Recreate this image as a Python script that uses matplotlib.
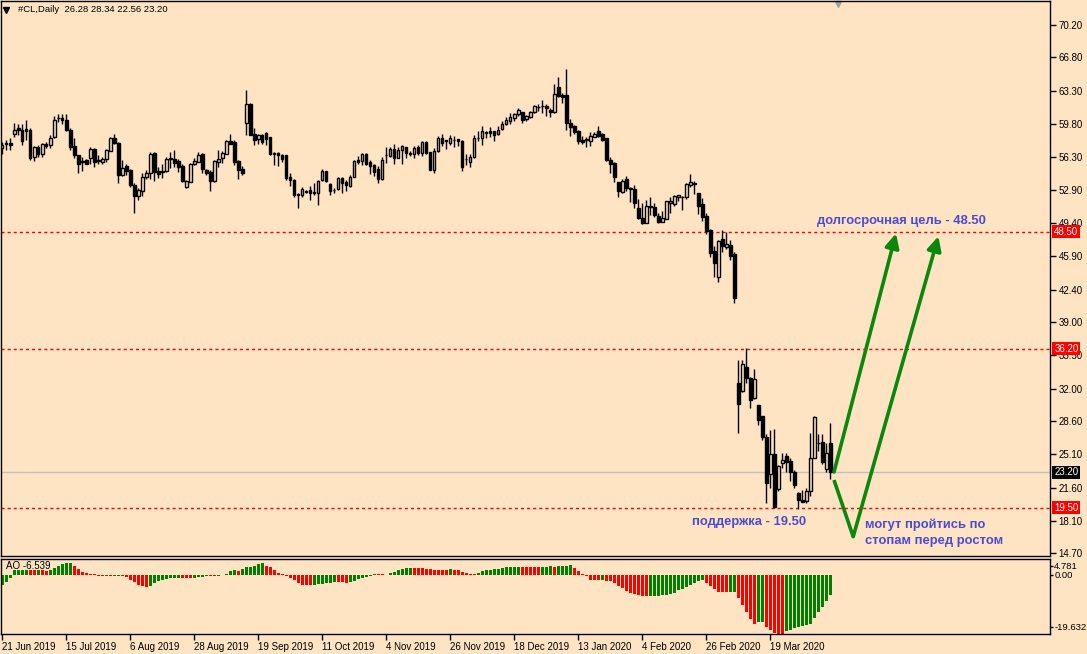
import numpy as np
import matplotlib.pyplot as plt

plt.rcParams['font.family'] = ['Liberation Sans', 'DejaVu Sans']

# daily candles of #CL, 21 Jun 2019 .. 9 Apr 2020
opens = [57.25, 57.75, 57.85, 58.75, 59.35, 59.2, 59.25, 59.2, 56.35, 57.35,
         56.7, 57.75, 57.6, 58.4, 60.4, 60.4, 60.2, 59.2, 57.5, 56.5,
         55.85, 56.0, 56.2, 57.15, 56.0, 55.85, 56.1, 57.0, 58.3, 57.85,
         54.45, 55.4, 54.95, 53.4, 52.25, 52.8, 54.25, 54.7, 56.8, 54.9,
         54.85, 54.9, 56.2, 56.1, 55.9, 55.4, 53.15, 53.7, 55.65, 55.85,
         56.65, 55.0, 54.8, 53.85, 55.85, 56.2, 56.7, 58.0, 57.9, 55.9,
         55.1, 59.95, 61.9, 58.75, 58.2, 58.65, 58.9, 58.4, 56.7, 56.75,
         56.55, 56.55, 54.2, 53.95, 52.4, 52.35, 52.7, 52.85, 52.7, 52.6,
         53.9, 54.9, 53.5, 52.9, 52.95, 54.1, 53.75, 53.3, 54.25, 56.0,
         55.95, 56.7, 55.85, 55.5, 55.05, 54.0, 56.5, 56.45, 57.2, 56.25,
         57.05, 57.35, 56.8, 56.7, 57.35, 56.8, 57.95, 56.9, 55.0, 57.0,
         58.3, 58.05, 57.85, 58.15, 58.2, 58.0, 56.1, 55.85, 56.35, 58.3,
         58.3, 58.9, 59.05, 59.05, 58.75, 59.3, 59.8, 60.1, 60.45, 60.8,
         61.1, 60.3, 60.55, 61.1, 61.6, 61.7, 61.7, 61.25, 61.1, 63.65,
         62.85, 62.85, 59.95, 59.6, 59.05, 58.1, 58.2, 58.05, 58.45, 59.1,
         58.75, 58.3, 56.0, 55.67, 53.67, 52.7, 53.99, 53.1, 52.94, 50.94,
         49.89, 49.44, 51.19, 51.05, 50.14, 49.54, 49.82, 51.47, 51.4, 52.1,
         52.1, 52.1, 53.4, 53.64, 52.59, 51.4, 50.14, 48.67, 46.46, 43.7,
         47.72, 46.92, 47.09, 46.15, 32.56, 31.75, 34.31, 33.15, 30.98, 30.28,
         29.13, 26.96, 23.0, 25.1, 21.46, 24.16, 24.96, 24.4, 23.28, 21.0,
         20.3, 20.2, 21.25, 24.75, 26.25, 26.36, 23.56, 26.28]
highs = [57.95, 58.1, 58.3, 59.95, 59.85, 59.85, 60.2, 59.35, 57.5, 57.6,
         57.85, 57.95, 58.65, 60.65, 60.9, 60.8, 60.8, 59.35, 58.3, 56.5,
         56.35, 56.1, 57.4, 57.25, 56.55, 56.35, 57.15, 58.45, 58.8, 57.95,
         56.0, 55.65, 55.05, 53.55, 53.05, 54.6, 54.95, 56.9, 56.9, 55.3,
         55.65, 56.35, 56.9, 57.05, 56.1, 55.65, 53.95, 55.75, 56.2, 56.9,
         56.8, 55.1, 54.95, 56.0, 57.05, 57.0, 58.1, 58.75, 58.1, 56.0,
         55.35, 63.35, 62.0, 59.35, 58.8, 58.8, 59.0, 58.45, 56.9, 56.9,
         56.7, 56.55, 54.6, 54.0, 52.55, 53.15, 52.85, 53.3, 53.55, 53.9,
         55.05, 54.9, 53.55, 53.05, 54.2, 54.25, 53.9, 54.45, 56.0, 56.45,
         56.8, 56.8, 56.0, 55.65, 55.4, 56.3, 57.35, 57.35, 57.75, 57.35,
         57.6, 57.4, 57.0, 57.5, 57.6, 58.05, 58.05, 56.9, 57.25, 58.5,
         58.75, 58.1, 58.65, 58.55, 58.2, 58.1, 56.65, 56.7, 58.65, 59.1,
         59.6, 59.1, 59.5, 59.1, 59.6, 60.15, 60.5, 61.0, 61.0, 61.45,
         61.1, 60.75, 61.2, 61.8, 61.95, 62.3, 61.95, 61.45, 64.0, 64.7,
         63.05, 65.55, 60.3, 59.7, 59.15, 58.5, 58.4, 58.95, 58.95, 59.6,
         58.9, 58.3, 56.3, 55.85, 53.75, 53.99, 54.34, 53.22, 53.39, 51.89,
         51.47, 51.82, 52.1, 51.47, 50.42, 50.66, 51.71, 52.1, 52.34, 52.34,
         52.24, 53.57, 54.55, 53.85, 52.59, 51.99, 50.42, 48.74, 46.99, 47.62,
         48.67, 48.5, 47.62, 46.36, 35.01, 35.01, 36.23, 33.26, 34.06, 30.28,
         29.13, 27.2, 27.65, 27.76, 23.98, 25.2, 25.2, 24.75, 23.45, 21.1,
         21.35, 21.6, 27.31, 29.16, 27.2, 27.2, 26.25, 28.34]
lows = [56.65, 57.05, 57.05, 58.45, 58.65, 57.6, 58.1, 56.0, 55.95, 56.35,
        56.3, 57.25, 57.25, 58.3, 60.05, 59.85, 59.05, 57.05, 56.2, 54.7,
        54.9, 55.6, 55.65, 55.25, 55.65, 55.65, 55.85, 56.95, 57.7, 53.55,
        54.35, 54.45, 53.2, 50.5, 51.8, 52.25, 54.05, 54.0, 53.85, 54.1,
        54.1, 54.8, 55.15, 55.25, 54.8, 53.75, 53.05, 53.7, 55.5, 55.8,
        54.6, 54.45, 52.8, 53.75, 55.25, 55.75, 56.65, 57.7, 55.5, 54.0,
        54.45, 58.65, 58.6, 57.6, 57.7, 57.7, 57.6, 56.55, 55.5, 55.4,
        55.85, 53.9, 53.3, 52.1, 50.95, 52.1, 52.5, 51.8, 52.35, 51.3,
        53.85, 53.75, 52.35, 52.5, 52.85, 52.6, 52.8, 53.2, 54.2, 55.65,
        55.5, 55.5, 54.55, 54.3, 53.65, 53.95, 55.75, 56.3, 55.65, 56.2,
        55.65, 56.2, 56.4, 56.2, 56.55, 56.45, 56.65, 54.95, 54.6, 56.9,
        57.5, 57.15, 57.6, 57.4, 57.5, 54.9, 55.5, 55.3, 56.2, 58.05,
        57.6, 58.3, 58.45, 58.05, 58.65, 59.15, 59.7, 59.85, 60.15, 60.6,
        59.95, 60.1, 60.4, 61.0, 61.2, 61.0, 60.65, 60.55, 61.0, 62.6,
        62.05, 59.15, 58.55, 58.75, 57.75, 57.75, 57.35, 57.5, 58.4, 58.45,
        58.05, 55.95, 54.7, 53.75, 52.1, 52.6, 52.8, 51.64, 50.94, 49.79,
        49.26, 49.44, 50.24, 50.0, 49.37, 49.54, 49.79, 50.49, 51.22, 51.75,
        50.77, 51.89, 53.22, 52.45, 50.35, 49.65, 48.25, 45.8, 43.77, 43.24,
        46.4, 46.64, 45.52, 41.03, 27.31, 31.68, 32.56, 30.0, 30.91, 28.18,
        26.61, 20.02, 21.6, 19.5, 21.25, 23.63, 23.28, 22.3, 21.53, 19.36,
        20.06, 20.02, 20.76, 24.68, 25.45, 24.05, 23.28, 22.56]
closes = [57.6, 57.8, 57.6, 59.2, 59.2, 58.05, 59.1, 56.2, 57.35, 56.65,
          57.7, 57.5, 58.3, 60.2, 60.4, 60.2, 59.15, 57.4, 56.5, 55.55,
          55.85, 55.65, 57.15, 55.85, 55.9, 56.1, 57.05, 58.3, 57.85, 54.4,
          55.15, 54.9, 53.4, 52.25, 52.85, 54.2, 54.7, 56.7, 54.8, 54.55,
          54.75, 56.1, 56.1, 55.75, 55.3, 53.85, 53.85, 55.65, 55.9, 56.55,
          55.1, 54.7, 53.85, 55.95, 56.1, 56.8, 58.0, 57.75, 55.85, 55.0,
          54.7, 61.9, 58.65, 58.1, 58.65, 57.95, 58.2, 56.7, 56.7, 56.55,
          56.1, 54.1, 53.9, 52.35, 52.3, 52.95, 52.7, 52.5, 52.5, 53.85,
          54.9, 53.85, 52.8, 52.85, 54.1, 53.65, 53.4, 54.2, 55.95, 55.8,
          56.65, 55.65, 55.4, 54.8, 54.0, 56.0, 56.5, 57.2, 56.25, 57.05,
          57.5, 56.8, 56.65, 57.25, 56.8, 57.95, 56.8, 55.0, 57.0, 58.3,
          57.85, 58.05, 58.3, 58.1, 58.05, 55.3, 56.1, 56.35, 58.3, 58.3,
          59.05, 58.9, 58.9, 58.65, 59.15, 59.75, 60.2, 60.5, 60.9, 61.25,
          60.2, 60.65, 61.1, 61.7, 61.6, 61.7, 61.45, 61.1, 62.95, 62.75,
          62.6, 59.95, 59.5, 58.95, 58.05, 57.95, 58.1, 58.5, 58.75, 58.55,
          58.1, 56.0, 55.6, 54.2, 52.8, 53.85, 53.04, 52.94, 51.54, 49.89,
          49.44, 51.19, 51.05, 50.24, 49.54, 49.89, 51.71, 51.71, 52.24, 52.34,
          52.1, 53.5, 53.67, 53.46, 51.22, 50.07, 48.6, 46.29, 45.24, 47.51,
          47.02, 47.2, 45.97, 41.56, 30.35, 34.55, 33.08, 30.81, 33.01, 28.71,
          26.96, 22.05, 25.1, 19.55, 23.87, 24.5, 24.26, 23.28, 21.88, 20.3,
          20.13, 21.25, 24.75, 29.06, 26.25, 24.26, 25.2, 23.20]

# Awesome Oscillator values per bar
ao_values = [-3.2, -2.3, -0.9, 1.5, 1.6, 1.7, 1.75, 1.6, 1.5, 1.6,
             1.55, 1.45, 1.8, 2.4, 3.0, 3.5, 3.9, 4.0, 3.1, 1.9,
             1.1, 0.5, 0.35, 0.25, -0.3, -0.35, -0.3, -0.4, -0.35, -0.3,
             -0.45, -0.8, -1.6, -2.4, -3.3, -3.8, -4.0, -3.5, -2.6, -2.1,
             -1.6, -1.2, -1.0, -0.9, -0.85, -1.0, -1.05, -1.1, -0.9, -0.8,
             -0.6, -0.4, -0.45, -0.5, -0.3, -0.15, 0.4, 1.4, 1.6, 1.3,
             1.9, 2.5, 2.8, 3.1, 3.7, 3.95, 3.1, 2.5, 1.6, 0.8,
             0.35, -0.3, -0.9, -1.8, -2.6, -3.2, -3.3, -3.35, -3.2, -3.0,
             -2.9, -2.7, -2.65, -2.3, -2.4, -2.45, -2.5, -2.3, -2.1, -1.5,
             -1.1, -0.7, -0.4, 0.35, 0.25, 0.2, 0.15, 0.5, 1.1, 1.7,
             2.0, 2.3, 2.4, 2.35, 2.3, 2.25, 2.1, 1.95, 1.8, 1.75,
             1.7, 1.68, 1.85, 1.8, 1.5, 1.1, 0.6, 0.45, 0.3, 0.8,
             1.3, 1.6, 1.65, 1.9, 2.0, 2.3, 2.5, 2.6, 2.7, 2.8,
             2.75, 2.7, 2.68, 2.65, 2.6, 2.75, 2.8, 2.85, 2.75, 3.0,
             3.1, 3.15, 3.2, 2.3, 1.35, 0.4, -0.4, -1.55, -1.65, -1.7,
             -1.55, -1.9, -2.1, -2.7, -3.6, -4.45, -5.25, -5.95, -6.4, -6.75,
             -7.0, -7.1, -7.05, -7.0, -6.95, -6.75, -6.5, -6.2, -5.85, -5.0,
             -4.7, -3.9, -3.3, -2.7, -2.1, -1.8, -2.7, -3.6, -4.7, -5.6,
             -5.65, -5.7, -5.6, -5.55, -7.7, -10.0, -12.35, -14.5, -16.3, -15.8,
             -15.75, -17.4, -18.4, -19.3, -19.6, -19.63, -18.7, -18.35, -17.8, -17.45,
             -16.95, -16.6, -16.3, -14.3, -12.35, -10.5, -8.5, -6.539]

date_labels = ["21 Jun 2019", "15 Jul 2019", "6 Aug 2019", "28 Aug 2019",
               "19 Sep 2019", "11 Oct 2019", "4 Nov 2019", "26 Nov 2019",
               "18 Dec 2019", "13 Jan 2020", "4 Feb 2020", "26 Feb 2020",
               "19 Mar 2020"]
date_bars = [0, 16, 32, 48, 64, 80, 96, 112, 128, 144, 160, 176, 192]

price_ticks = [70.20, 66.80, 63.30, 59.80, 56.30, 52.90, 49.40, 45.90, 42.40,
               39.00, 35.50, 32.00, 28.60, 25.10, 21.60, 18.10, 14.70]
levels = [48.50, 36.20, 19.50]
last_price = 23.20

# forecast arrows (bar index, price)
arrow_up = [(207.9, 23.25), (223.4, 48.3)]
arrow_dip = [(207.9, 22.4), (212.7, 16.45), (234.0, 48.0)]

BG = "#FFE4C4"
TXT_BLUE = "#4B4BD2"
GREEN = "#0B870B"
W, H = 1087, 654

fig = plt.figure(figsize=(W / 100, H / 100), dpi=100)
fig.patch.set_facecolor(BG)
ax = fig.add_axes([1 / W, 1 - 556 / H, 1049 / W, 555 / H])
ao_ax = fig.add_axes([1 / W, 1 - 634 / H, 1049 / W, 75.3 / H])

for a in (ax, ao_ax):
    a.set_facecolor(BG)
    for s in a.spines.values():
        s.set_color("black")
        s.set_linewidth(1)
    a.set_xlim(-0.35, 261.9)

# --- candles
o = np.array(opens)
h = np.array(highs)
l = np.array(lows)
c = np.array(closes)
x = np.arange(len(o))
up = c >= o
body_bot = np.minimum(o, c)
body_h = np.maximum(np.abs(c - o), 0.03)

ax.vlines(x, l, h, color="black", lw=1, zorder=2)
ax.bar(x[up], body_h[up], bottom=body_bot[up], width=0.55, facecolor=BG,
       edgecolor="black", lw=1, zorder=3)
ax.bar(x[~up], body_h[~up], bottom=body_bot[~up], width=0.55, facecolor="black",
       edgecolor="black", lw=1, zorder=3)

ax.set_ylim(14.42, 72.72)
for lv in levels:
    ax.axhline(lv, color="red", lw=1, ls=(0, (2.2, 2.2)), zorder=1)
ax.axhline(last_price, color="#C0C0C0", lw=1, zorder=1)

ax.yaxis.tick_right()
ax.set_yticks(price_ticks)
ax.set_yticklabels([f"{p:.2f}" for p in price_ticks])
ax.tick_params(axis="y", direction="out", length=4, width=1, labelsize=7, pad=2)
ax.set_xticks([])

for lv in levels:
    ax.text(1.004, lv, f"{lv:.2f}", transform=ax.get_yaxis_transform(),
            ha="left", va="center", fontsize=7, color="white", zorder=10,
            clip_on=False,
            bbox=dict(boxstyle="square,pad=0.18", fc="red", ec="none"))
ax.text(1.004, last_price, f"{last_price:.2f}", transform=ax.get_yaxis_transform(),
        ha="left", va="center", fontsize=7, color="white", zorder=10,
        clip_on=False, bbox=dict(boxstyle="square,pad=0.18", fc="black", ec="none"))

# header
ax.plot([5 / 1049], [1 - 9 / 555], marker="v", color="black", ms=4,
        transform=ax.transAxes, clip_on=False)
ax.text(17 / 1049, 1 - 9 / 555, "#CL,Daily  26.28 28.34 22.56 23.20",
        transform=ax.transAxes, fontsize=6.8, va="center", ha="left")
ax.plot([837 / 1049], [1 - 3 / 555], marker="v", color="#A0A0A0", ms=5,
        transform=ax.transAxes, clip_on=False)

# forecast arrows
(ax0, ay0), (ax1, ay1) = arrow_up
ax.annotate("", xy=(ax1, ay1), xytext=(ax0, ay0),
            arrowprops=dict(arrowstyle="-|>", color=GREEN, lw=2.6,
                            mutation_scale=21, shrinkA=0, shrinkB=0))
ax.plot([arrow_dip[0][0], arrow_dip[1][0]], [arrow_dip[0][1], arrow_dip[1][1]],
        color=GREEN, lw=2.6, solid_capstyle="butt")
ax.annotate("", xy=arrow_dip[2], xytext=arrow_dip[1],
            arrowprops=dict(arrowstyle="-|>", color=GREEN, lw=2.6,
                            mutation_scale=21, shrinkA=0, shrinkB=0))

note_kw = dict(color=TXT_BLUE, fontsize=9.4, fontweight="bold", ha="left", va="center")
ax.text(203.6, 49.64, "долгосрочная цель - 48.50", **note_kw)
ax.text(172.3, 17.94, "поддержка - 19.50", **note_kw)
ax.text(215.6, 17.68, "могут пройтись по", **note_kw)
ax.text(215.6, 15.99, "стопам перед ростом", **note_kw)

# --- Awesome Oscillator
ao = np.array(ao_values)
ao_colors = ["#008000" if i > 0 and ao[i] > ao[i - 1] else "#FF0000"
             for i in range(len(ao))]
ao_colors[0] = "#008000"
ao_ax.bar(np.arange(len(ao)), ao, width=0.7, color=ao_colors, lw=0)
ao_ax.set_ylim(-19.632, 5.42)
ao_ax.yaxis.tick_right()
ao_ax.set_yticks([3.0, 0.0, -17.3])
ao_ax.set_yticklabels(["4.781", "0.00", "-19.632"])
ao_ax.tick_params(axis="y", direction="out", length=2, width=1, labelsize=6.8, pad=1)
ao_ax.text(5 / 1049, 0.9, f"AO {ao_values[-1]:.3f}", transform=ao_ax.transAxes,
           fontsize=7, va="center", ha="left")

ao_ax.set_xticks(date_bars)
ao_ax.set_xticklabels(date_labels)
for t in ao_ax.get_xticklabels():
    t.set_ha("left")
ao_ax.tick_params(axis="x", direction="out", length=4, width=1, labelsize=7, pad=2)

fig.savefig("out.png", dpi=100, facecolor=BG)
